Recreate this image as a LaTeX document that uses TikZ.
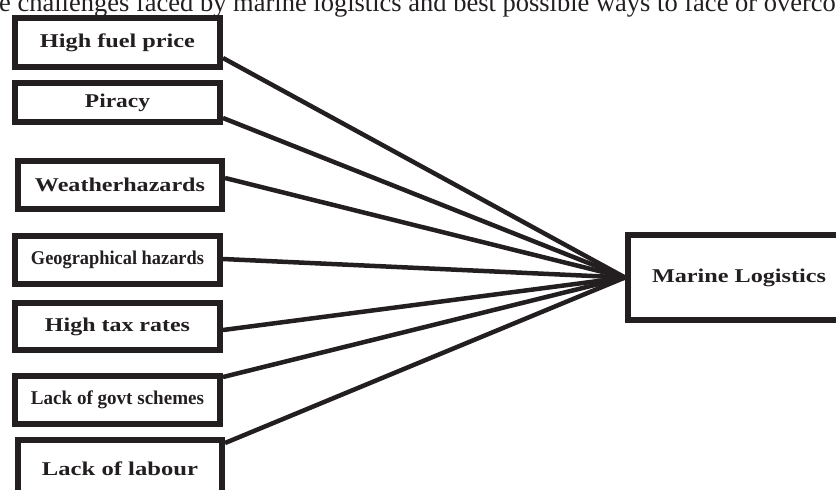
\documentclass[tikz,border=0pt]{standalone}
\usepackage{fontspec}
\setmainfont{Liberation Serif}
\usepackage{graphicx}
\definecolor{ink}{HTML}{231F20}
\newcommand{\fitw}[2]{\resizebox{#1}{\height}{#2}}
\begin{document}
\begin{tikzpicture}[x=1pt,y=-1pt,
  cbox/.style={draw=ink, line width=6pt, inner sep=0pt, text=ink, minimum width=205pt,
    font=\fontsize{19.5}{22}\selectfont\bfseries},
  link/.style={draw=ink, line width=4.5pt},
  caption/.style={text=ink, inner sep=0pt, anchor=base west, font=\fontsize{26.5}{30}\selectfont}]
\useasboundingbox (0,0) rectangle (836,490);
\clip (0,0) rectangle (836,490);
\node[caption] (cap) at (-1,11.5) {e challenges faced by marine logistics and best possible ways to face or overcome};
\node[cbox, minimum height=49pt] (b1) at (117.5,42.5) {\fitw{155pt}{High fuel price}};
\node[cbox, minimum height=39pt] (b2) at (117.5,102.5) {\raisebox{-3pt}{\fitw{65pt}{Piracy}}};
\node[cbox, minimum width=204pt, minimum height=48pt] (b3) at (120,185) {\fitw{170pt}{Weatherhazards}};
\node[cbox, minimum height=48pt] (b4) at (117.5,260) {\raisebox{-2pt}{\fitw{173pt}{Geographical hazards}}};
\node[cbox, minimum height=47pt] (b5) at (117.5,326.5) {\fitw{145pt}{High tax rates}};
\node[cbox, minimum height=48pt] (b6) at (117.5,400) {\fitw{173pt}{Lack of govt schemes}};
\node[cbox, minimum width=204pt, minimum height=80pt] (b7) at (120,480) {\raisebox{22pt}{\fitw{156pt}{Lack of labour}}};
\node[cbox, minimum width=217pt, minimum height=85pt] (M) at (736.5,277.5) {\hspace*{5pt}\raisebox{-2pt}{\fitw{174pt}{Marine Logistics}}};
\draw[link] ([yshift=-15.5pt]b1.east) -- (M.west);
\draw[link] ([yshift=-15.5pt]b2.east) -- (M.west);
\draw[link] ([yshift=7pt]b3.east) -- (M.west);
\draw[link] ([yshift=1pt]b4.east) -- (M.west);
\draw[link] ([yshift=-3.5pt]b5.east) -- (M.west);
\draw[link] ([yshift=23pt]b6.east) -- (M.west);
\draw[link] ([yshift=37pt]b7.east) -- (M.west);
\end{tikzpicture}
\end{document}
